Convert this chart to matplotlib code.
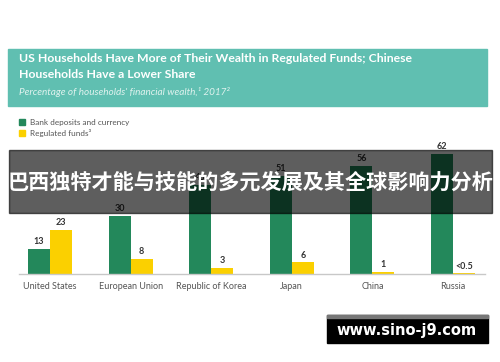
import matplotlib
matplotlib.use("Agg")
import matplotlib.pyplot as plt
from matplotlib.patches import Rectangle
import numpy as np

categories = ["United States", "European Union", "Republic of Korea", "Japan", "China", "Russia"]
bank_deposits = [13, 30, 46, 51, 56, 62]
regulated_funds = [23, 8, 3, 6, 1, 0.3]
bank_labels = ["13", "30", "46", "51", "56", "62"]
fund_labels = ["23", "8", "3", "6", "1", "<0.5"]

W, H = 500, 362
fig = plt.figure(figsize=(W / 100, H / 100), dpi=100)
fig.patch.set_facecolor("white")

def fx(px):
    return px / W

def fy(py):
    return 1 - py / H

GREEN = "#23885b"
YELLOW = "#fbd000"
TEAL = "#60bfb1"

# header box
fig.patches.append(Rectangle((fx(8), fy(106)), fx(479), (106 - 49) / H,
                             transform=fig.transFigure, color=TEAL, zorder=1))
fig.text(fx(19), fy(59), "US Households Have More of Their Wealth in Regulated Funds; Chinese",
         color="white", fontsize=8.8, fontweight="bold", family="Lato", va="center", ha="left")
fig.text(fx(19), fy(75), "Households Have a Lower Share",
         color="white", fontsize=8.8, fontweight="bold", family="Lato", va="center", ha="left")
fig.text(fx(19), fy(92), "Percentage of households' financial wealth,\u00b9 2017\u00b2",
         color="#dff2ee", fontsize=7.2, style="italic", family=["Lato", "DejaVu Sans"],
         va="center", ha="left")

# legend
fig.patches.append(Rectangle((fx(19), fy(125)), fx(6), 6 / H, transform=fig.transFigure,
                             color=GREEN, zorder=1))
fig.patches.append(Rectangle((fx(19), fy(136)), fx(6), 6 / H, transform=fig.transFigure,
                             color=YELLOW, zorder=1))
fig.text(fx(30), fy(122), "Bank deposits and currency", color="#555555", fontsize=5.9,
         family="Lato", va="center", ha="left")
fig.text(fx(30), fy(133), "Regulated funds\u00b3", color="#555555", fontsize=5.9,
         family=["Lato", "DejaVu Sans"], va="center", ha="left")

# main axes
ppu = 80.6
x0_px = 50
left_px, right_px = 19, 485
top_px, base_px = 140, 274
yscale = 1.93
ax = fig.add_axes([fx(left_px), fy(base_px), (right_px - left_px) / W, (base_px - top_px) / H])
ax.set_xlim(-(x0_px - left_px) / ppu, 5 + (right_px - 453) / ppu)
ax.set_ylim(0, (base_px - top_px) / yscale)
x = np.arange(len(categories))
bw = 22 / ppu
ax.bar(x - bw / 2, bank_deposits, width=bw, color=GREEN, zorder=2)
ax.bar(x + bw / 2, regulated_funds, width=bw, color=YELLOW, zorder=2)
for xi, v, lab in zip(x, bank_deposits, bank_labels):
    ax.text(xi - bw / 2, v + 1.5, lab, ha="center", va="bottom", fontsize=6.5,
            color="#333333", fontweight="bold", family="Lato")
for xi, v, lab in zip(x, regulated_funds, fund_labels):
    ax.text(xi + bw / 2, v + 1.5, lab, ha="center", va="bottom", fontsize=6.5,
            color="#333333", fontweight="bold", family="Lato")
for s in ["top", "right", "left"]:
    ax.spines[s].set_visible(False)
ax.spines["bottom"].set_color("#c8c8c8")
ax.spines["bottom"].set_linewidth(1.0)
ax.set_yticks([])
ax.set_xticks(x)
ax.set_xticklabels(categories, fontsize=6.5, color="#555555", family="Lato")
ax.tick_params(axis="x", length=0, pad=6)
ax.patch.set_alpha(0)

# overlay banner
fig.patches.append(Rectangle((fx(9), fy(213)), (492 - 9) / W, (213 - 150) / H,
                             transform=fig.transFigure, color="black", alpha=0.63, zorder=5))
fig.text(0.5, fy(182), "巴西独特才能与技能的多元发展及其全球影响力分析", color="white",
         fontsize=15.2, fontweight="bold", family=["Noto Sans CJK SC", "DejaVu Sans"],
         ha="center", va="center", zorder=6)

# watermark
fig.patches.append(Rectangle((fx(327), fy(343)), (488 - 327) / W, (343 - 315) / H,
                             transform=fig.transFigure, color="black", zorder=5))
fig.patches.append(Rectangle((fx(327), fy(318)), (488 - 327) / W, 3 / H,
                             transform=fig.transFigure, color="#777777", zorder=5))
fig.text(fx(407), fy(331), "www.sino-j9.com", color="white", fontsize=10.5,
         fontweight="bold", family="DejaVu Sans", ha="center", va="center", zorder=6)

fig.savefig("out.png", dpi=100)
